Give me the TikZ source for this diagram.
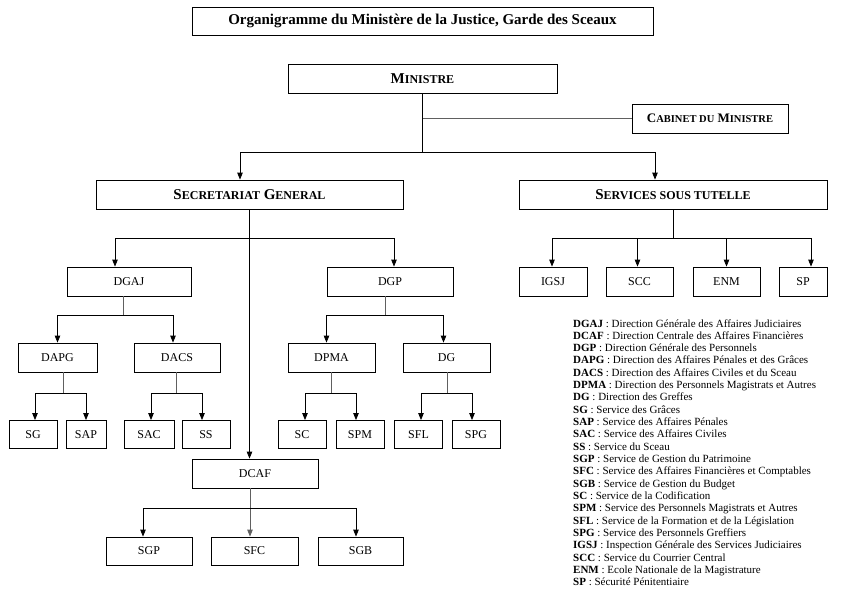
\documentclass[tikz,border=0pt]{standalone}
\usepackage{fontspec}
\setmainfont{Liberation Serif}
\usetikzlibrary{arrows.meta,calc}

\tikzset{
  box/.style={draw, line width=0.8pt, minimum height=29pt, inner sep=0pt,
    font=\fontsize{12}{12}\selectfont},
  bigbox/.style={box, font=\bfseries\fontsize{15}{15}\selectfont},
  link/.style={line width=0.8pt},
  stem/.style={line width=0.8pt, gray!75!black},
  arr/.style={link, -{Triangle[length=7pt,width=5.5pt]}},
  legend/.style={anchor=base west, inner sep=0pt, font=\fontsize{11}{11}\selectfont}
}
% petites capitales simulees
\newcommand\smc[1]{{\fontsize{12}{12}\selectfont #1}}
\newcommand\smcs[1]{{\fontsize{10.5}{10.5}\selectfont #1}}

\begin{document}
\begin{tikzpicture}[x=1pt,y=-1pt]
  \useasboundingbox (0,0) rectangle (855,600);

  \node[bigbox, minimum width=461pt, minimum height=28pt,
    font=\bfseries\fontsize{15}{15}\selectfont] (title) at (422.5,21)
    {Organigramme du Ministère de la Justice, Garde des Sceaux};

  \node[bigbox, minimum width=269pt] (min) at (422.5,78.5) {M\smc{INISTRE}};
  \node[bigbox, minimum width=156pt, font=\bfseries\fontsize{13}{13}\selectfont] (cab)
    at (710,118.5) {C\smcs{ABINET DU} M\smcs{INISTRE}};
  \node[bigbox, minimum width=307pt] (sg) at (249.5,194.5) {S\smc{ECRETARIAT} G\smc{ENERAL}};
  \node[bigbox, minimum width=308pt] (sst) at (673,194.5) {S\smc{ERVICES SOUS TUTELLE}};

  % directions generales
  \node[box, minimum width=124pt] (dgaj) at (129,281.5) {DGAJ};
  \node[box, minimum width=126pt] (dgp) at (390,281.5) {DGP};

  % services sous tutelle
  \node[box, minimum width=68pt] (igsj) at (553,281.5) {IGSJ};
  \node[box, minimum width=67pt] (scc) at (639.5,281.5) {SCC};
  \node[box, minimum width=67pt] (enm) at (726.5,281.5) {ENM};
  \node[box, minimum width=48pt] (sp) at (803,281.5) {SP};

  % directions
  \node[box, minimum width=79pt] (dapg) at (57.5,357.5) {DAPG};
  \node[box, minimum width=86pt] (dacs) at (177,357.5) {DACS};
  \node[box, minimum width=87pt] (dpma) at (331.5,357.5) {DPMA};
  \node[box, minimum width=87pt] (dg) at (446.5,357.5) {DG};

  % services
  \foreach \name/\lbl/\x/\w in {sgr/SG/33/48, sap/SAP/86/40, sac/SAC/149/50, ss/SS/206/48,
                                sc/SC/302/48, spm/SPM/360/48, sfl/SFL/418.5/48, spg/SPG/476/48} {
    \node[box, minimum width=\w pt, minimum height=28pt] (\name) at (\x,434.5) {\lbl};
  }

  \node[box, minimum width=126pt] (dcaf) at (255,473.5) {DCAF};
  \node[box, minimum width=86pt, minimum height=28pt] (sgp) at (149,551) {SGP};
  \node[box, minimum width=87pt, minimum height=28pt] (sfc) at (254.5,551) {SFC};
  \node[box, minimum width=85pt, minimum height=28pt] (sgb) at (360.5,551) {SGB};

  % points de jonction
  \coordinate (jmin) at (422.5,152);
  \coordinate (jsg) at (249.5,238);
  \coordinate (jsst) at (673,238);
  \coordinate (jdgaj) at (123,315);
  \coordinate (jdgp) at (385,315);
  \coordinate (jdapg) at (63,393);
  \coordinate (jdacs) at (176,393);
  \coordinate (jdpma) at (331,393);
  \coordinate (jdg) at (447,393);
  \coordinate (jdcaf) at (250,508);

  % liaisons
  \draw[link] (min.south) -- (jmin);
  \draw[stem] (cab.west) -- (cab.west -| min.south);
  \draw[arr] (jmin) -| ([xshift=-9.5pt]sg.north);
  \draw[arr] (jmin) -| ([xshift=-18pt]sst.north);

  \draw[arr] (sg.south) -- (sg.south |- dcaf.north);
  \draw[arr] (jsg) -| ([xshift=-14pt]dgaj.north);
  \draw[arr] (jsg) -| ([xshift=4pt]dgp.north);

  \draw[link] (sst.south) -- (jsst);
  \foreach \n/\s in {igsj/-1, scc/-2, enm/0, sp/8} {
    \draw[arr] (jsst) -| ([xshift=\s pt]\n.north);
  }

  \draw[stem] (jdgaj |- dgaj.south) -- (jdgaj);
  \draw[arr] (jdgaj) -| (dapg.north);
  \draw[arr] (jdgaj) -| ([xshift=-4pt]dacs.north);

  \draw[stem] (jdgp |- dgp.south) -- (jdgp);
  \draw[arr] (jdgp) -| ([xshift=-5pt]dpma.north);
  \draw[arr] (jdgp) -| ([xshift=-3pt]dg.north);

  \draw[stem] (jdapg |- dapg.south) -- (jdapg);
  \draw[arr] (jdapg) -| ([xshift=2pt]sgr.north);
  \draw[arr] (jdapg) -| (sap.north);

  \draw[stem] (jdacs |- dacs.south) -- (jdacs);
  \draw[arr] (jdacs) -| ([xshift=2pt]sac.north);
  \draw[arr] (jdacs) -| ([xshift=-4pt]ss.north);

  \draw[stem] (jdpma |- dpma.south) -- (jdpma);
  \draw[arr] (jdpma) -| ([xshift=3pt]sc.north);
  \draw[arr] (jdpma) -| ([xshift=-4pt]spm.north);

  \draw[stem] (jdg |- dg.south) -- (jdg);
  \draw[arr] (jdg) -| ([xshift=2.5pt]sfl.north);
  \draw[arr] (jdg) -| ([xshift=-4pt]spg.north);

  \draw[stem, -{Triangle[length=7pt,width=5.5pt]}] (jdcaf |- dcaf.south) -- (jdcaf |- sfc.north);
  \draw[arr] (jdcaf) -| ([xshift=-6pt]sgp.north);
  \draw[arr] (jdcaf) -| ([xshift=-4.5pt]sgb.north);

  % legende
  \foreach \abbr/\desc [count=\i] in {
      DGAJ/Direction Générale des Affaires Judiciaires,
      DCAF/Direction Centrale des Affaires Financières,
      DGP/Direction Générale des Personnels,
      DAPG/Direction des Affaires Pénales et des Grâces,
      DACS/Direction des Affaires Civiles et du Sceau,
      DPMA/Direction des Personnels Magistrats et Autres,
      DG/Direction des Greffes,
      SG/Service des Grâces,
      SAP/Service des Affaires Pénales,
      SAC/Service des Affaires Civiles,
      SS/Service du Sceau,
      SGP/Service de Gestion du Patrimoine,
      SFC/Service des Affaires Financières et Comptables,
      SGB/Service de Gestion du Budget,
      SC/Service de la Codification,
      SPM/Service des Personnels Magistrats et Autres,
      SFL/Service de la Formation et de la Législation,
      SPG/Service des Personnels Greffiers,
      IGSJ/Inspection Générale des Services Judiciaires,
      SCC/Service du Courrier Central,
      ENM/Ecole Nationale de la Magistrature,
      SP/Sécurité Pénitentiaire} {
    \node[legend] (leg\i) at (573,{327+12.33*(\i-1)}) {\textbf{\abbr} : \desc};
  }
\end{tikzpicture}
\end{document}
